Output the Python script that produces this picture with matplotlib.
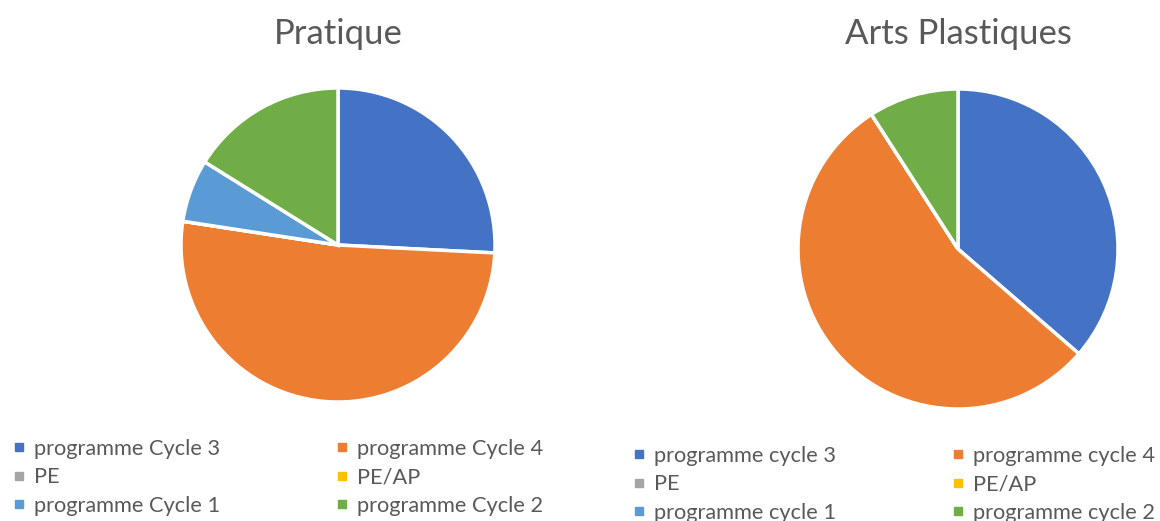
import matplotlib.pyplot as plt
from matplotlib.lines import Line2D

W, H = 1160, 521

labels_pratique = ["programme Cycle 3", "programme Cycle 4", "PE", "PE/AP",
                   "programme Cycle 1", "programme Cycle 2"]
values_pratique = [8, 16, 0, 0, 2, 5]

labels_arts = ["programme cycle 3", "programme cycle 4", "PE", "PE/AP",
               "programme cycle 1", "programme cycle 2"]
values_arts = [4, 6, 0, 0, 0, 1]

colors = ["#4472C4", "#ED7D31", "#A5A5A5", "#FFC000", "#5B9BD5", "#70AD47"]
text_color = "#595959"

plt.rcParams['font.family'] = ['Lato', 'DejaVu Sans']

fig = plt.figure(figsize=(W / 100, H / 100), dpi=100)


def pie_axes(cx, cy, r, pad=1.05):
    # cx, cy, r in pixels from the top-left corner
    half = r * pad
    ax = fig.add_axes([(cx - half) / W, (H - cy - half) / H, 2 * half / W, 2 * half / H])
    return ax, pad


def draw(cx, cy, r, values, title, labels, leg_x, leg_y):
    ax, pad = pie_axes(cx, cy, r)
    ax.pie(values, colors=colors, startangle=90, counterclock=False,
           wedgeprops=dict(edgecolor="white", linewidth=2.5))
    ax.set_xlim(-pad, pad)
    ax.set_ylim(-pad, pad)
    ax.set_aspect("auto")
    fig.text(cx / W, 1 - 34 / H, title, ha="center", va="center",
             fontsize=25, color=text_color)
    handles = [Line2D([], [], marker="s", linestyle="none", markersize=6,
                      markerfacecolor=c, markeredgecolor=c) for c in colors]
    # legend fills column by column, so reorder to read row by row
    order = [0, 2, 4, 1, 3, 5]
    fig.legend([handles[i] for i in order], [labels[i] for i in order],
               ncol=2, loc="upper left",
               bbox_to_anchor=(leg_x / W, 1 - leg_y / H), frameon=False,
               fontsize=15.7, labelcolor=text_color, handlelength=0.6,
               handletextpad=0.4, columnspacing=5.3, labelspacing=0.38,
               borderaxespad=0, borderpad=0)


draw(338, 245, 157, values_pratique, "Pratique", labels_pratique, 12, 439)
draw(958, 249, 160, values_arts, "Arts Plastiques", labels_arts, 632, 446)

fig.savefig("out.png", dpi=100, facecolor="white")
